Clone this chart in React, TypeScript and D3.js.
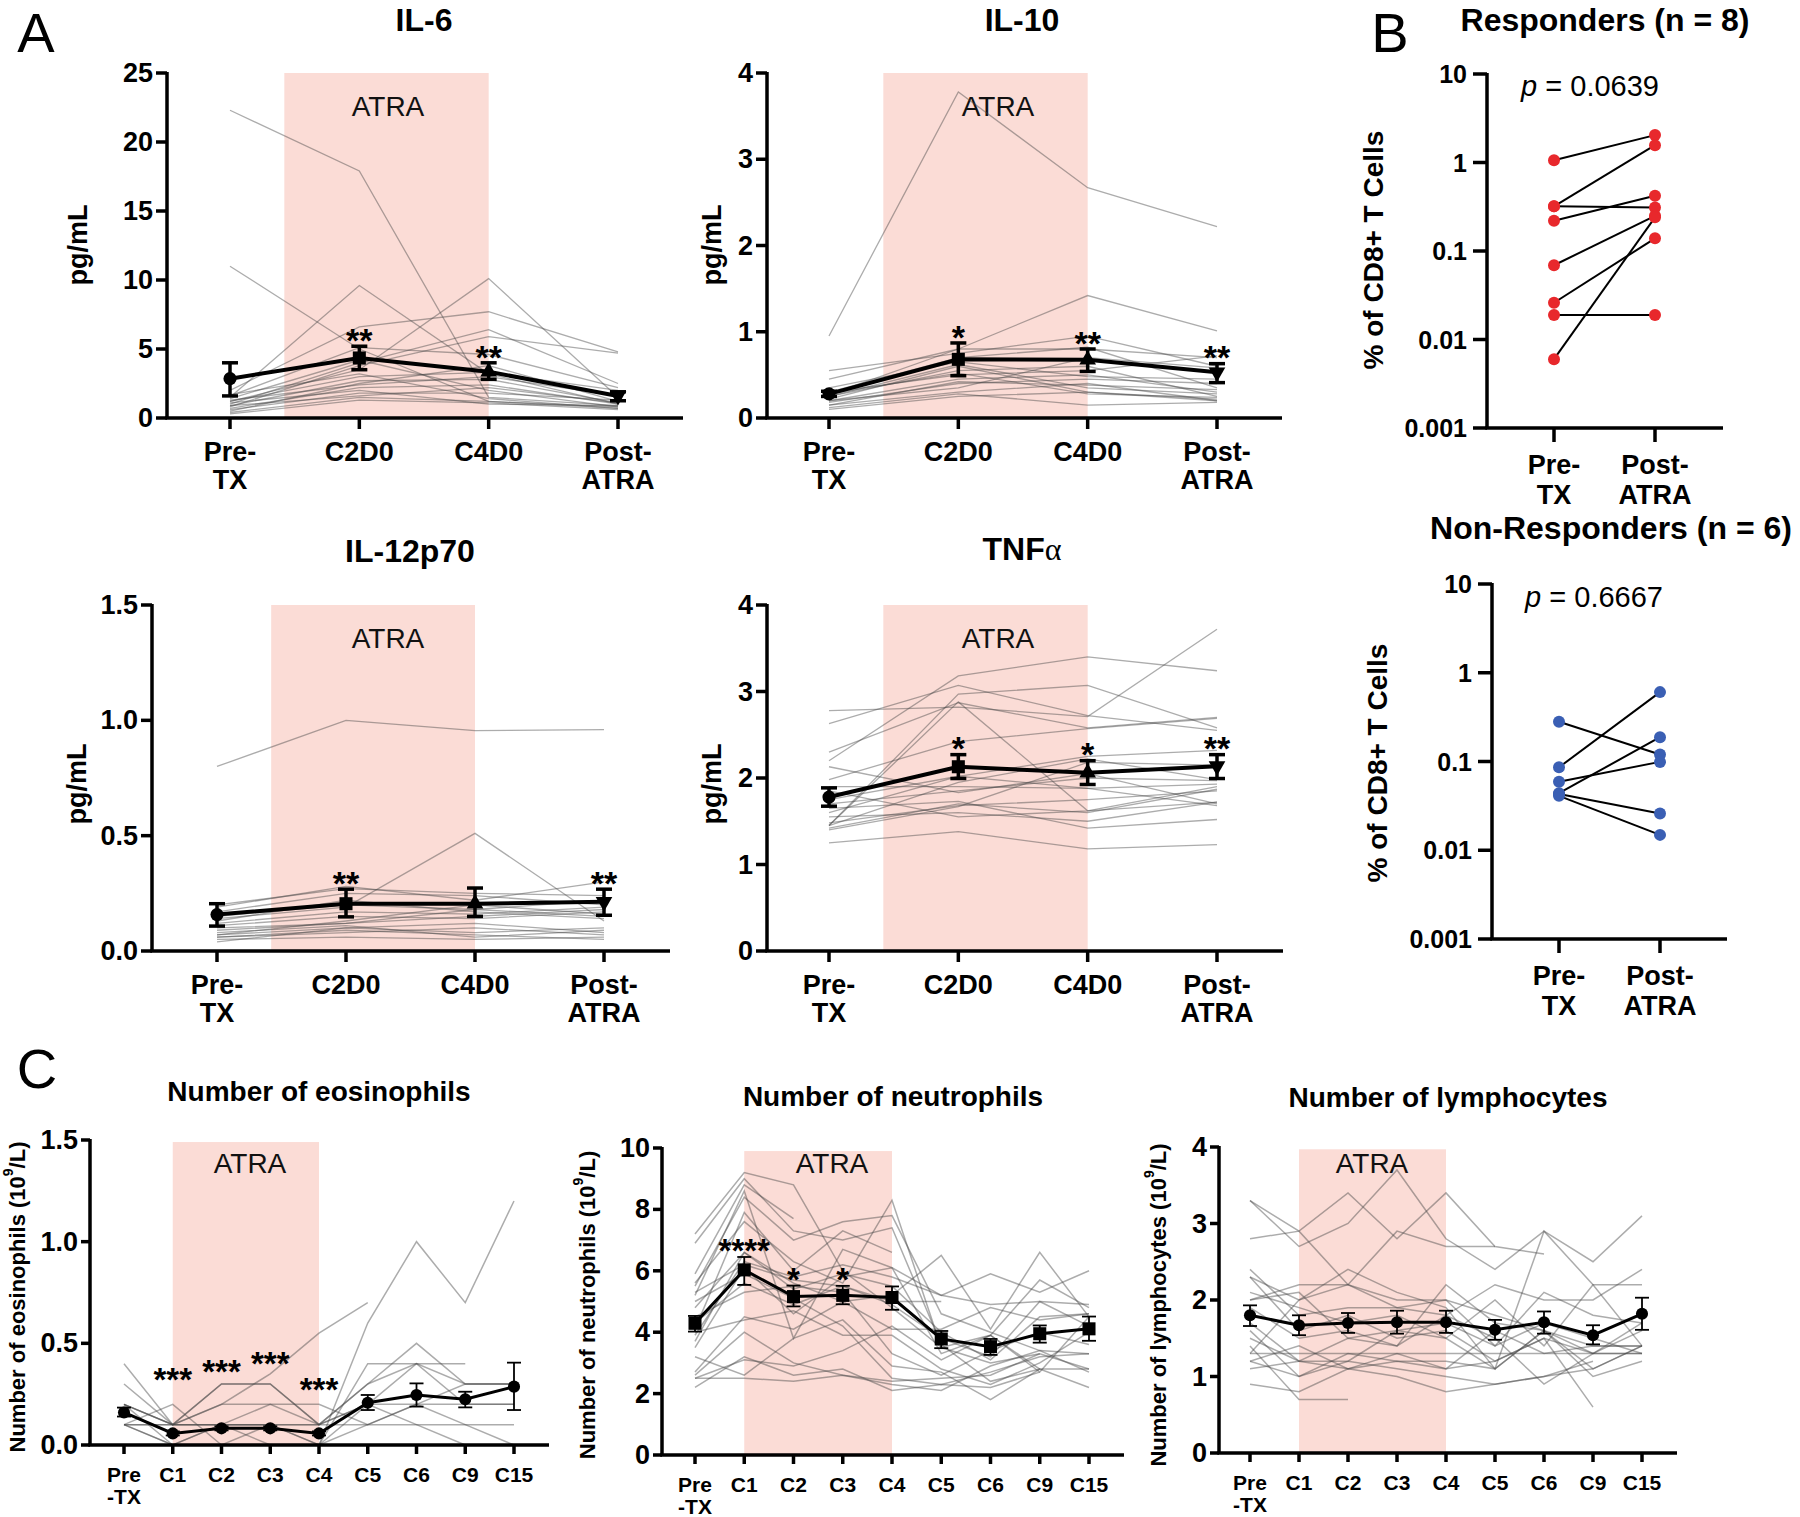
import React from "react";
import * as d3 from "d3";

const FONT = "'Liberation Sans', Arial, Helvetica, sans-serif";

// ───── Panel A: cytokines ─────
const cytoCats = ["Pre-TX", "C2D0", "C4D0", "Post-ATRA"];
const cytoLabels = [["Pre-", "TX"], ["C2D0"], ["C4D0"], ["Post-", "ATRA"]];
const cytoMarkers = ["circle", "square", "triangle", "triangleDown"];

const il6Ticks = [0, 5, 10, 15, 20, 25];
const il6Patients = [
  [22.3, 17.9, 1.5, 0.9],
  [11.0, 5.0, 1.2, 0.8],
  [1.5, 9.6, 3.2, 1.0],
  [1.2, 3.5, 10.1, 1.5],
  [2.0, 6.6, 7.7, 4.8],
  [1.0, 4.0, 6.4, 2.5],
  [0.8, 3.8, 5.9, 4.7],
  [1.6, 5.1, 4.6, 2.2],
  [0.5, 2.5, 3.8, 1.2],
  [1.2, 3.0, 3.3, 2.0],
  [0.9, 2.7, 2.8, 1.1],
  [0.7, 2.2, 2.4, 1.0],
  [1.4, 4.2, 2.0, 0.8],
  [0.6, 1.8, 1.8, 1.3],
  [0.4, 1.5, 1.2, 0.7],
  [1.1, 2.0, 1.0, 0.9],
  [0.3, 1.3, 1.1, 0.6],
  [1.7, 3.2, 1.4, 0.7],
  [0.9, 1.6, 2.2, 1.1],
  [1.3, 2.4, 3.0, 1.6],
];
const il6Mean = [2.85, 4.35, 3.35, 1.6];
const il6Lo = [1.6, 3.5, 2.8, 1.25];
const il6Hi = [4.0, 5.2, 4.0, 1.9];
const il6Stars = ["", "**", "**", ""];

const il10Ticks = [0, 1, 2, 3, 4];
const il10Patients = [
  [0.95, 3.78, 2.67, 2.22],
  [0.27, 0.8, 1.42, 1.01],
  [0.55, 0.75, 0.95, 0.6],
  [0.45, 0.8, 0.8, 0.7],
  [0.3, 0.7, 0.82, 0.35],
  [0.25, 0.55, 0.6, 0.25],
  [0.2, 0.45, 0.5, 0.3],
  [0.15, 0.3, 0.4, 0.2],
  [0.22, 0.6, 0.3, 0.22],
  [0.18, 0.4, 0.45, 0.4],
  [0.12, 0.28, 0.15, 0.18],
  [0.3, 0.5, 0.55, 0.72],
  [0.2, 0.35, 0.7, 0.58],
  [0.25, 0.62, 0.35, 0.28],
  [0.15, 0.42, 0.38, 0.33],
  [0.28, 0.52, 0.28, 0.24],
  [0.35, 0.65, 0.48, 0.45],
  [0.1, 0.25, 0.3, 0.2],
];
const il10Mean = [0.28, 0.68, 0.675, 0.53];
const il10Lo = [0.25, 0.49, 0.54, 0.41];
const il10Hi = [0.31, 0.87, 0.8, 0.63];
const il10Stars = ["", "*", "**", "**"];

const il12Ticks = [0, 0.5, 1.0, 1.5];
const il12Patients = [
  [0.8, 1.0, 0.955, 0.96],
  [0.14, 0.19, 0.51, 0.13],
  [0.2, 0.27, 0.25, 0.24],
  [0.19, 0.28, 0.22, 0.3],
  [0.17, 0.25, 0.24, 0.2],
  [0.15, 0.2, 0.18, 0.22],
  [0.12, 0.17, 0.16, 0.19],
  [0.11, 0.15, 0.14, 0.17],
  [0.09, 0.12, 0.18, 0.15],
  [0.08, 0.11, 0.06, 0.09],
  [0.07, 0.1, 0.12, 0.08],
  [0.06, 0.08, 0.1, 0.07],
  [0.05, 0.06, 0.05, 0.06],
  [0.04, 0.1, 0.08, 0.1],
  [0.1, 0.12, 0.15, 0.18],
  [0.07, 0.13, 0.2, 0.16],
  [0.13, 0.22, 0.17, 0.14],
  [0.06, 0.09, 0.07, 0.05],
];
const il12Mean = [0.158, 0.205, 0.205, 0.213];
const il12Lo = [0.108, 0.148, 0.15, 0.155];
const il12Hi = [0.205, 0.268, 0.273, 0.268];
const il12Stars = ["", "**", "", "**"];

const tnfTicks = [0, 1, 2, 3, 4];
const tnfPatients = [
  [1.25, 1.38, 1.18, 1.23],
  [2.78, 2.82, 2.71, 3.72],
  [2.2, 3.18, 3.4, 3.24],
  [2.63, 3.07, 2.72, 2.55],
  [1.45, 2.97, 3.07, 2.58],
  [1.45, 2.88, 1.62, 1.72],
  [2.3, 2.87, 2.58, 2.7],
  [1.98, 2.42, 2.57, 2.69],
  [1.6, 2.02, 2.25, 2.32],
  [1.9, 1.9, 1.88, 1.93],
  [1.7, 1.85, 2.0, 1.97],
  [1.45, 1.95, 2.22, 1.98],
  [1.42, 1.7, 1.6, 1.87],
  [1.55, 1.6, 1.5, 1.72],
  [1.65, 1.73, 1.42, 1.52],
  [1.85, 1.55, 1.62, 1.9],
  [1.48, 1.68, 1.75, 1.85],
  [2.13, 1.83, 2.05, 1.7],
  [1.75, 2.02, 1.88, 1.68],
  [1.4, 1.67, 2.18, 2.15],
];
const tnfMean = [1.78, 2.13, 2.06, 2.137];
const tnfLo = [1.674, 1.994, 1.925, 1.994];
const tnfHi = [1.886, 2.27, 2.2, 2.27];
const tnfStars = ["", "*", "*", "**"];

// ───── Panel B: CD8+ T cells (log) ─────
const bCats = ["Pre-TX", "Post-ATRA"];
const bLabels = [["Pre-", "TX"], ["Post-", "ATRA"]];
const bTicks = [0.001, 0.01, 0.1, 1, 10];
const respPre = [1.06, 0.32, 0.32, 0.22, 0.069, 0.026, 0.0189, 0.006];
const respPost = [2.04, 1.57, 0.31, 0.42, 0.25, 0.139, 0.0189, 0.24];
const nonPre = [0.28, 0.086, 0.059, 0.044, 0.043, 0.041];
const nonPost = [0.12, 0.605, 0.099, 0.188, 0.026, 0.0149];

// ───── Panel C: blood counts ─────
const cycCats = ["Pre-TX", "C1", "C2", "C3", "C4", "C5", "C6", "C9", "C15"];
const cycLabels = [["Pre", "-TX"], ["C1"], ["C2"], ["C3"], ["C4"], ["C5"], ["C6"], ["C9"], ["C15"]];

const eosTicks = [0, 0.5, 1.0, 1.5];
const eosPatients = [
  [0.4, 0.1, 0.3, 0.3, 0.1, 0.1, 0.1, 0.1, 0.1],
  [0.3, 0.1, 0.1, 0.1, 0.0, 0.6, 1.0, 0.7, 1.2],
  [0.2, 0.0, 0.1, 0.2, 0.1, 0.2, 0.1, 0.0, null],
  [0.1, 0.2, 0.0, 0.1, 0.1, 0.3, 0.4, 0.3, 0.3],
  [0.1, 0.1, 0.2, 0.35, 0.55, 0.7, null, null, null],
  [0.2, 0.1, 0.2, 0.2, 0.2, 0.1, 0.2, 0.2, 0.2],
  [0.1, 0.0, 0.0, 0.0, 0.0, 0.4, 0.4, 0.4, null],
  [0.1, 0.1, 0.1, 0.1, 0.1, 0.3, 0.5, 0.3, 0.3],
  [0.2, 0.1, 0.3, 0.3, 0.1, 0.2, 0.2, 0.1, 0.0],
  [0.1, 0.0, 0.1, 0.0, 0.0, 0.1, 0.2, 0.3, 0.3],
  [0.2, 0.1, 0.1, 0.1, 0.0, 0.2, 0.4, 0.2, 0.2],
];
const eosMean = [0.16, 0.057, 0.082, 0.082, 0.057, 0.208, 0.246, 0.225, 0.287];
const eosLo = [0.14, 0.047, 0.072, 0.072, 0.047, 0.172, 0.189, 0.185, 0.172];
const eosHi = [0.184, 0.067, 0.092, 0.092, 0.067, 0.246, 0.303, 0.262, 0.405];
const eosStars = ["", "***", "***", "***", "***", "", "", "", ""];
const eosStarAt = [null, 0.36, 0.4, 0.44, 0.31, null, null, null, null];

const neuTicks = [0, 2, 4, 6, 8, 10];
const neuPatients = [
  [7.2, 9.2, 8.8, 6.0, 4.8, 3.5, 3.9, 5.7, 4.8],
  [6.9, 9.0, 7.3, 7.0, 7.4, 3.6, 2.4, 2.8, 2.2],
  [5.9, 8.8, 7.7, null, null, null, null, null, null],
  [5.5, 8.4, 7.0, 7.6, 7.8, 4.6, 4.0, 3.4, 3.3],
  [5.2, 8.6, 3.8, 6.7, 6.1, 5.2, 4.9, 5.0, 4.9],
  [4.1, 7.9, 6.0, 7.3, 6.6, null, null, null, null],
  [5.6, 7.6, 6.3, 5.6, 8.3, 3.5, 3.0, 3.3, 2.8],
  [4.8, 6.6, 5.6, 5.0, 5.2, 6.5, 4.1, 6.6, 4.5],
  [3.9, 6.3, 5.8, 6.2, 5.8, 5.2, 5.9, 5.3, 6.0],
  [3.5, 6.1, 4.6, 5.8, 6.1, 3.3, 3.9, 2.8, null],
  [4.3, 5.6, 4.9, 5.5, 5.0, 5.0, null, null, null],
  [5.0, 5.9, 5.1, 4.2, 2.5, 2.3, 2.7, 3.2, 3.3],
  [4.0, 4.4, 4.7, 3.9, 3.9, 2.8, 2.3, 3.0, 4.0],
  [3.2, 2.6, 3.8, 4.4, 2.9, 2.7, 1.8, 2.8, 2.8],
  [2.5, 3.1, 2.9, 3.4, 4.2, 3.1, 3.9, 2.7, 4.5],
  [2.6, 4.0, 3.0, 2.6, 2.3, 2.1, 2.9, 3.4, 2.7],
  [2.2, 3.2, 2.6, 2.8, 2.1, 2.3, 2.2, 2.7, null],
  [2.5, 2.5, 2.4, 2.6, 2.4, 2.5, 2.6, 3.3, null],
  [3.7, 6.6, 5.4, 5.9, 5.5, 4.0, 3.1, 4.5, 4.6],
  [4.5, 5.3, 5.5, 5.3, 3.3, 2.6, 3.4, 4.0, 3.6],
  [5.3, 6.2, 5.7, 5.5, 4.9, 3.8, 3.2, 5.0, 4.2],
  [2.7, 4.5, 4.1, 5.0, 4.1, 4.1, 4.8, 4.4, 4.6],
];
const neuMean = [4.29, 6.03, 5.16, 5.2, 5.13, 3.78, 3.53, 3.95, 4.11];
const neuLo = [4.02, 5.54, 4.84, 4.91, 4.73, 3.48, 3.26, 3.66, 3.72];
const neuHi = [4.53, 6.45, 5.52, 5.51, 5.49, 4.04, 3.78, 4.22, 4.51];
const neuStars = ["", "****", "*", "*", "", "", "", "", ""];

const lymTicks = [0, 1, 2, 3, 4];
const lymPatients = [
  [3.3, 2.7, 3.0, 3.7, 2.8, 2.4, 2.9, 2.5, 3.1],
  [3.3, 2.9, 2.2, 1.9, 2.0, 1.4, 2.1, 1.8, 1.7],
  [2.8, 2.9, 3.4, 2.8, 3.4, 2.7, 2.6, null, null],
  [2.3, 2.0, 2.2, 2.9, 2.7, 2.7, null, null, null],
  [2.0, 2.2, 2.2, 2.0, 2.0, 1.8, 1.6, 1.3, 1.3],
  [2.4, 1.8, 1.9, 1.9, 1.8, 2.2, 2.0, 2.0, 2.4],
  [2.1, 1.9, 1.7, 1.8, 1.5, 2.0, 1.4, 2.2, 2.2],
  [1.3, 2.0, 2.4, 2.1, 1.9, 1.1, 2.9, 2.2, 1.4],
  [1.9, 1.5, 1.6, 1.4, 2.2, 1.7, 1.6, 1.1, 1.4],
  [1.3, 1.3, 1.3, 1.3, 1.3, 1.3, 1.3, 1.3, 1.3],
  [1.5, 1.2, 1.1, 1.3, 1.1, 1.2, 1.5, 0.6, null],
  [1.2, 1.0, 1.3, 1.2, 1.2, 1.1, 1.6, 1.0, 1.2],
  [1.1, 1.2, 1.2, 1.1, 1.0, 0.9, 1.0, 1.2, null],
  [0.9, 0.8, 1.1, 1.0, 0.8, 0.9, 1.0, 1.1, 1.4],
  [1.4, 0.7, 0.7, null, null, null, null, null, null],
  [1.6, 1.0, 1.2, 1.6, 1.5, 1.1, 1.6, 1.4, 1.4],
  [1.7, 1.2, 1.5, 1.4, 1.8, 1.5, 0.9, 1.3, 1.7],
  [2.0, 2.1, 1.5, 1.6, 1.7, 1.4, 1.7, 1.5, 1.3],
  [2.3, 1.6, 1.8, 1.5, 1.6, 1.2, 1.5, 1.3, 1.6],
  [1.2, 1.4, 1.1, 1.2, 1.1, 1.6, 1.3, 1.4, 1.4],
];
const lymMean = [1.8, 1.67, 1.7, 1.71, 1.71, 1.61, 1.71, 1.54, 1.82];
const lymLo = [1.66, 1.54, 1.57, 1.56, 1.57, 1.48, 1.56, 1.42, 1.61];
const lymHi = [1.93, 1.8, 1.83, 1.86, 1.86, 1.74, 1.85, 1.67, 2.03];
const lymStars = ["", "", "", "", "", "", "", "", ""];

const PINK = "#fbdcd6";
const GREY = "rgba(70,70,70,0.45)";

function markerPath(kind: string, size: number) {
  const t = kind === "square" ? d3.symbolSquare : kind === "circle" ? d3.symbolCircle : d3.symbolTriangle;
  return d3.symbol().type(t).size(size)() as string;
}

function TrendPanel(p: any) {
  const x = d3.scalePoint<string>().domain(p.cats).range([p.xFirst, p.xLast]);
  const y = d3.scaleLinear().domain([0, p.yMax]).range([p.yBottom, p.yTop]);
  const px = (i: number) => x(p.cats[i]) as number;
  const line = d3
    .line<number | null>()
    .defined((v) => v !== null)
    .x((_, i) => px(i))
    .y((v) => y(v as number));
  const rx0 = px(p.rectFrom) + p.rectShift * x.step();
  const rx1 = px(p.rectTo);
  const ry = y(p.rectTopVal);
  return (
    <g>
      <rect x={rx0} y={ry} width={rx1 - rx0} height={p.yBottom - ry} fill={PINK} />
      <text x={p.atraX} y={p.atraY} fontSize={p.atraSize} textAnchor="middle" dominantBaseline="central" fill="#111">
        ATRA
      </text>
      {p.patients.map((s: (number | null)[], i: number) => (
        <path key={i} d={line(s) as string} fill="none" stroke={GREY} strokeWidth={p.greyWidth} />
      ))}
      <path d={line(p.mean) as string} fill="none" stroke="#000" strokeWidth={p.meanWidth} />
      {p.mean.map((_: number, i: number) => (
        <g key={i} stroke="#000" strokeWidth={p.errWidth}>
          <line x1={px(i)} x2={px(i)} y1={y(p.lo[i])} y2={y(p.hi[i])} />
          <line x1={px(i) - p.capHalf} x2={px(i) + p.capHalf} y1={y(p.lo[i])} y2={y(p.lo[i])} />
          <line x1={px(i) - p.capHalf} x2={px(i) + p.capHalf} y1={y(p.hi[i])} y2={y(p.hi[i])} />
        </g>
      ))}
      {p.mean.map((v: number, i: number) => {
        const kind = p.markers[i % p.markers.length];
        const size = kind === "circle" ? p.circleSize : kind === "square" ? p.squareSize : p.triSize;
        return (
          <path
            key={i}
            d={markerPath(kind, size)}
            transform={`translate(${px(i)},${y(v)})${kind === "triangleDown" ? " rotate(180)" : ""}`}
            fill="#000"
          />
        );
      })}
      {p.stars.map((s: string, i: number) => {
        if (!s) return null;
        const cy = p.starAt && p.starAt[i] !== null ? y(p.starAt[i]) : y(p.hi[i]) - 14;
        return (
          <text key={i} x={px(i)} y={cy + 0.58 * p.starSize} fontSize={p.starSize} fontWeight="bold" textAnchor="middle">
            {s}
          </text>
        );
      })}
      {/* axes */}
      <line x1={p.axisX} x2={p.axisX} y1={p.yTop - 1} y2={p.yBottom} stroke="#000" strokeWidth={p.axisWidth} />
      <line x1={p.axisX - p.axisWidth / 2} x2={p.axisEnd} y1={p.yBottom} y2={p.yBottom} stroke="#000" strokeWidth={p.axisWidth} />
      {p.ticks.map((t: number) => (
        <g key={t}>
          <line x1={p.axisX - p.tickLen} x2={p.axisX} y1={y(t)} y2={y(t)} stroke="#000" strokeWidth={p.axisWidth} />
          <text
            x={p.axisX - p.tickLen - 3}
            y={y(t)}
            fontSize={p.tickSize}
            fontWeight="bold"
            textAnchor="end"
            dominantBaseline="central"
          >
            {p.fmt(t)}
          </text>
        </g>
      ))}
      {p.cats.map((c: string, i: number) => (
        <g key={c}>
          <line x1={px(i)} x2={px(i)} y1={p.yBottom} y2={p.yBottom + p.tickLen} stroke="#000" strokeWidth={p.axisWidth} />
          {p.labels[i].map((l: string, j: number) => (
            <text
              key={j}
              x={px(i)}
              y={p.yBottom + p.labelRows[j]}
              fontSize={p.labelSize}
              fontWeight="bold"
              textAnchor="middle"
              dominantBaseline="central"
            >
              {l}
            </text>
          ))}
        </g>
      ))}
      <text x={p.titleX} y={p.titleY} fontSize={p.titleSize} fontWeight="bold" textAnchor="middle" dominantBaseline="central">
        {p.title}
      </text>
      <text
        transform={`translate(${p.ylabelX},${p.ylabelY}) rotate(-90)`}
        fontSize={p.ylabelSize}
        fontWeight="bold"
        textAnchor="middle"
        dominantBaseline="central"
      >
        {p.ylabel}
      </text>
    </g>
  );
}

function LogPanel(p: any) {
  const x = d3.scalePoint<string>().domain(bCats).range([p.xFirst, p.xLast]);
  const y = d3.scaleLog().domain([0.001, 10]).range([p.yBottom, p.yTop]);
  const x0 = x(bCats[0]) as number;
  const x1 = x(bCats[1]) as number;
  return (
    <g>
      {p.pre.map((v: number, i: number) => (
        <line key={i} x1={x0} x2={x1} y1={y(v)} y2={y(p.post[i])} stroke="#000" strokeWidth={2} />
      ))}
      {p.pre.map((v: number, i: number) => (
        <circle key={"a" + i} cx={x0} cy={y(v)} r={6} fill={p.color} />
      ))}
      {p.post.map((v: number, i: number) => (
        <circle key={"b" + i} cx={x1} cy={y(v)} r={6} fill={p.color} />
      ))}
      <line x1={p.axisX} x2={p.axisX} y1={p.yTop - 1} y2={p.yBottom} stroke="#000" strokeWidth={3.5} />
      <line x1={p.axisX - 1.75} x2={p.axisEnd} y1={p.yBottom} y2={p.yBottom} stroke="#000" strokeWidth={3.5} />
      {bTicks.map((t) => (
        <g key={t}>
          <line x1={p.axisX - 14} x2={p.axisX} y1={y(t)} y2={y(t)} stroke="#000" strokeWidth={3.5} />
          <text x={p.axisX - 20} y={y(t)} fontSize={25} fontWeight="bold" textAnchor="end" dominantBaseline="central">
            {String(t)}
          </text>
        </g>
      ))}
      {bCats.map((c, i) => (
        <g key={c}>
          <line x1={x(c)} x2={x(c)} y1={p.yBottom} y2={p.yBottom + 14} stroke="#000" strokeWidth={3.5} />
          {bLabels[i].map((l, j) => (
            <text
              key={j}
              x={x(c)}
              y={p.yBottom + (j === 0 ? 37 : 67)}
              fontSize={27}
              fontWeight="bold"
              textAnchor="middle"
              dominantBaseline="central"
            >
              {l}
            </text>
          ))}
        </g>
      ))}
      <text x={p.titleX} y={p.titleY} fontSize={32} fontWeight="bold" textAnchor="middle" dominantBaseline="central">
        {p.title}
      </text>
      <text x={p.pX} y={p.pY} fontSize={29} textAnchor="middle" dominantBaseline="central">
        <tspan fontStyle="italic">p</tspan> = {p.pValue}
      </text>
      <text
        transform={`translate(${p.ylabelX},${p.ylabelY}) rotate(-90)`}
        fontSize={28}
        fontWeight="bold"
        textAnchor="middle"
        dominantBaseline="central"
      >
        % of CD8+ T Cells
      </text>
    </g>
  );
}

const cytoStyle = {
  cats: cytoCats,
  labels: cytoLabels,
  markers: cytoMarkers,
  labelRows: [34, 62],
  labelSize: 27,
  tickSize: 27,
  tickLen: 11,
  starSize: 34,
  circleSize: 135,
  squareSize: 170,
  triSize: 120,
  meanWidth: 4,
  errWidth: 3.5,
  capHalf: 8,
  greyWidth: 1.3,
  axisWidth: 3.5,
  titleSize: 32,
  ylabelSize: 27,
  atraSize: 28,
  rectFrom: 0,
  rectShift: 0.42,
  rectTo: 2,
  ylabel: "pg/mL",
};

const bloodStyle = {
  cats: cycCats,
  labels: cycLabels,
  labelRows: [29, 51],
  labelSize: 21,
  tickSize: 27,
  tickLen: 9,
  starSize: 33,
  circleSize: 115,
  squareSize: 170,
  triSize: 110,
  meanWidth: 3,
  errWidth: 1.8,
  capHalf: 7,
  greyWidth: 1.5,
  axisWidth: 3.5,
  titleSize: 28,
  ylabelSize: 22,
  atraSize: 28,
  rectFrom: 1,
  rectShift: 0,
  rectTo: 4,
};

const intFmt = d3.format("d");
const decFmt = d3.format(".1f");

function unitLabel(name: string) {
  return (
    <>
      {`Number of ${name} (10`}
      <tspan dy={-9} fontSize={14}>
        9
      </tspan>
      <tspan dy={9}>/L)</tspan>
    </>
  );
}

export default function App() {
  return (
    <svg
      width={1800}
      height={1517}
      viewBox="0 0 1800 1517"
      style={{ position: "absolute", left: 0, top: 0 }}
      fontFamily={FONT}
    >
      <rect width={1800} height={1517} fill="#fff" />
      <text x={36} y={32} fontSize={56} textAnchor="middle" dominantBaseline="central">A</text>
      <text x={1390} y={32} fontSize={56} textAnchor="middle" dominantBaseline="central">B</text>
      <text x={37} y={1068} fontSize={56} textAnchor="middle" dominantBaseline="central">C</text>

      <TrendPanel
        {...cytoStyle}
        title="IL-6" titleX={424} titleY={20}
        axisX={167} xFirst={230} xLast={618} axisEnd={683} yTop={73} yBottom={418}
        yMax={25} ticks={il6Ticks} fmt={intFmt} rectTopVal={25}
        patients={il6Patients} mean={il6Mean} lo={il6Lo} hi={il6Hi} stars={il6Stars}
        atraX={388} atraY={106} ylabelX={78} ylabelY={245}
      />
      <TrendPanel
        {...cytoStyle}
        title="IL-10" titleX={1022} titleY={20}
        axisX={767} xFirst={829} xLast={1217} axisEnd={1282} yTop={73} yBottom={418}
        yMax={4} ticks={il10Ticks} fmt={intFmt} rectTopVal={4}
        patients={il10Patients} mean={il10Mean} lo={il10Lo} hi={il10Hi} stars={il10Stars}
        atraX={998} atraY={106} ylabelX={712} ylabelY={245}
      />
      <TrendPanel
        {...cytoStyle}
        title="IL-12p70" titleX={410} titleY={551}
        axisX={152} xFirst={217} xLast={604} axisEnd={670} yTop={605} yBottom={951}
        yMax={1.5} ticks={il12Ticks} fmt={decFmt} rectTopVal={1.5}
        patients={il12Patients} mean={il12Mean} lo={il12Lo} hi={il12Hi} stars={il12Stars}
        atraX={388} atraY={638} ylabelX={77} ylabelY={784}
      />
      <TrendPanel
        {...cytoStyle}
        title={
          <>
            TNF
            <tspan fontFamily="'Liberation Serif', 'Times New Roman', serif" fontWeight="normal">α</tspan>
          </>
        }
        titleX={1022} titleY={549}
        axisX={767} xFirst={829} xLast={1217} axisEnd={1283} yTop={605} yBottom={951}
        yMax={4} ticks={tnfTicks} fmt={intFmt} rectTopVal={4}
        patients={tnfPatients} mean={tnfMean} lo={tnfLo} hi={tnfHi} stars={tnfStars}
        atraX={998} atraY={638} ylabelX={712} ylabelY={784}
      />

      <LogPanel
        title="Responders (n = 8)" titleX={1605} titleY={20}
        pValue="0.0639" pX={1590} pY={86}
        axisX={1487} xFirst={1554} xLast={1655} axisEnd={1723} yTop={74} yBottom={428}
        pre={respPre} post={respPost} color="#e8282c" ylabelX={1373} ylabelY={250}
      />
      <LogPanel
        title="Non-Responders (n = 6)" titleX={1611} titleY={528}
        pValue="0.6667" pX={1594} pY={597}
        axisX={1492} xFirst={1559} xLast={1660} axisEnd={1727} yTop={584} yBottom={939}
        pre={nonPre} post={nonPost} color="#3a5fb4" ylabelX={1377} ylabelY={763}
      />

      <TrendPanel
        {...bloodStyle}
        title="Number of eosinophils" titleX={319} titleY={1091}
        axisX={90} xFirst={124} xLast={514} axisEnd={549} yTop={1140} yBottom={1445}
        yMax={1.5} ticks={eosTicks} fmt={decFmt} rectTopVal={1.49}
        patients={eosPatients} mean={eosMean} lo={eosLo} hi={eosHi} stars={eosStars} starAt={eosStarAt}
        markers={["circle"]}
        atraX={250} atraY={1163} ylabel={unitLabel("eosinophils")} ylabelX={17} ylabelY={1297}
      />
      <TrendPanel
        {...bloodStyle}
        title="Number of neutrophils" titleX={893} titleY={1096}
        axisX={662} xFirst={695} xLast={1089} axisEnd={1124} yTop={1148} yBottom={1455}
        yMax={10} ticks={neuTicks} fmt={intFmt} rectTopVal={9.9}
        patients={neuPatients} mean={neuMean} lo={neuLo} hi={neuHi} stars={neuStars}
        markers={["square"]}
        atraX={832} atraY={1163} ylabel={unitLabel("neutrophils")} ylabelX={587} ylabelY={1305}
      />
      <TrendPanel
        {...bloodStyle}
        title="Number of lymphocytes" titleX={1448} titleY={1097}
        axisX={1219} xFirst={1250} xLast={1642} axisEnd={1677} yTop={1147} yBottom={1453}
        yMax={4} ticks={lymTicks} fmt={intFmt} rectTopVal={3.97}
        patients={lymPatients} mean={lymMean} lo={lymLo} hi={lymHi} stars={lymStars}
        markers={["circle"]}
        atraX={1372} atraY={1163} ylabel={unitLabel("lymphocytes")} ylabelX={1158} ylabelY={1305}
      />
    </svg>
  );
}
